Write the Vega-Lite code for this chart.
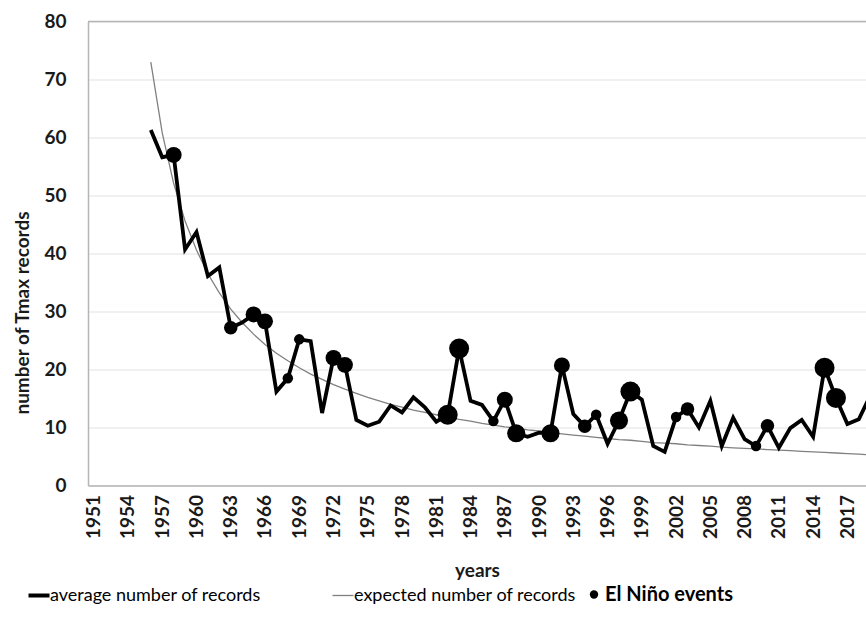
{
  "$schema": "https://vega.github.io/schema/vega-lite/v6.json",
  "width": 778,
  "height": 464,
  "autosize": {"type": "none"},
  "padding": {"left": 88, "top": 21.5, "right": 0, "bottom": 151.5},
  "background": "white",
  "config": {
    "view": {"stroke": null},
    "font": "Lato",
    "axis": {"labelFont": "Lato", "titleFont": "Lato"},
    "axisX": {"labelOverlap": false, "labelSeparation": 0},
    "legend": {"labelFont": "Lato"}
  },
  "datasets": {
    "lines": [
      {"year": 1956, "value": 73.0, "series": "expected number of records"},
      {"year": 1957, "value": 60.8, "series": "expected number of records"},
      {"year": 1958, "value": 52.1, "series": "expected number of records"},
      {"year": 1959, "value": 45.6, "series": "expected number of records"},
      {"year": 1960, "value": 40.6, "series": "expected number of records"},
      {"year": 1961, "value": 36.5, "series": "expected number of records"},
      {"year": 1962, "value": 33.2, "series": "expected number of records"},
      {"year": 1963, "value": 30.4, "series": "expected number of records"},
      {"year": 1964, "value": 28.1, "series": "expected number of records"},
      {"year": 1965, "value": 26.1, "series": "expected number of records"},
      {"year": 1966, "value": 24.3, "series": "expected number of records"},
      {"year": 1967, "value": 22.8, "series": "expected number of records"},
      {"year": 1968, "value": 21.5, "series": "expected number of records"},
      {"year": 1969, "value": 20.3, "series": "expected number of records"},
      {"year": 1970, "value": 19.2, "series": "expected number of records"},
      {"year": 1971, "value": 18.3, "series": "expected number of records"},
      {"year": 1972, "value": 17.4, "series": "expected number of records"},
      {"year": 1973, "value": 16.6, "series": "expected number of records"},
      {"year": 1974, "value": 15.9, "series": "expected number of records"},
      {"year": 1975, "value": 15.2, "series": "expected number of records"},
      {"year": 1976, "value": 14.6, "series": "expected number of records"},
      {"year": 1977, "value": 14.0, "series": "expected number of records"},
      {"year": 1978, "value": 13.5, "series": "expected number of records"},
      {"year": 1979, "value": 13.0, "series": "expected number of records"},
      {"year": 1980, "value": 12.6, "series": "expected number of records"},
      {"year": 1981, "value": 12.2, "series": "expected number of records"},
      {"year": 1982, "value": 11.8, "series": "expected number of records"},
      {"year": 1983, "value": 11.4, "series": "expected number of records"},
      {"year": 1984, "value": 11.1, "series": "expected number of records"},
      {"year": 1985, "value": 10.7, "series": "expected number of records"},
      {"year": 1986, "value": 10.4, "series": "expected number of records"},
      {"year": 1987, "value": 10.1, "series": "expected number of records"},
      {"year": 1988, "value": 9.9, "series": "expected number of records"},
      {"year": 1989, "value": 9.6, "series": "expected number of records"},
      {"year": 1990, "value": 9.4, "series": "expected number of records"},
      {"year": 1991, "value": 9.1, "series": "expected number of records"},
      {"year": 1992, "value": 8.9, "series": "expected number of records"},
      {"year": 1993, "value": 8.7, "series": "expected number of records"},
      {"year": 1994, "value": 8.5, "series": "expected number of records"},
      {"year": 1995, "value": 8.3, "series": "expected number of records"},
      {"year": 1996, "value": 8.1, "series": "expected number of records"},
      {"year": 1997, "value": 7.9, "series": "expected number of records"},
      {"year": 1998, "value": 7.8, "series": "expected number of records"},
      {"year": 1999, "value": 7.6, "series": "expected number of records"},
      {"year": 2000, "value": 7.4, "series": "expected number of records"},
      {"year": 2001, "value": 7.3, "series": "expected number of records"},
      {"year": 2002, "value": 7.2, "series": "expected number of records"},
      {"year": 2003, "value": 7.0, "series": "expected number of records"},
      {"year": 2004, "value": 6.9, "series": "expected number of records"},
      {"year": 2005, "value": 6.8, "series": "expected number of records"},
      {"year": 2006, "value": 6.6, "series": "expected number of records"},
      {"year": 2007, "value": 6.5, "series": "expected number of records"},
      {"year": 2008, "value": 6.4, "series": "expected number of records"},
      {"year": 2009, "value": 6.3, "series": "expected number of records"},
      {"year": 2010, "value": 6.2, "series": "expected number of records"},
      {"year": 2011, "value": 6.1, "series": "expected number of records"},
      {"year": 2012, "value": 6.0, "series": "expected number of records"},
      {"year": 2013, "value": 5.9, "series": "expected number of records"},
      {"year": 2014, "value": 5.8, "series": "expected number of records"},
      {"year": 2015, "value": 5.7, "series": "expected number of records"},
      {"year": 2016, "value": 5.6, "series": "expected number of records"},
      {"year": 2017, "value": 5.5, "series": "expected number of records"},
      {"year": 2018, "value": 5.4, "series": "expected number of records"},
      {"year": 2019, "value": 5.3, "series": "expected number of records"},
      {"year": 1956, "value": 61.3, "series": "average number of records"},
      {"year": 1957, "value": 56.6, "series": "average number of records"},
      {"year": 1958, "value": 57.0, "series": "average number of records"},
      {"year": 1959, "value": 40.7, "series": "average number of records"},
      {"year": 1960, "value": 43.7, "series": "average number of records"},
      {"year": 1961, "value": 36.1, "series": "average number of records"},
      {"year": 1962, "value": 37.6, "series": "average number of records"},
      {"year": 1963, "value": 27.2, "series": "average number of records"},
      {"year": 1964, "value": 28.1, "series": "average number of records"},
      {"year": 1965, "value": 29.5, "series": "average number of records"},
      {"year": 1966, "value": 28.3, "series": "average number of records"},
      {"year": 1967, "value": 16.2, "series": "average number of records"},
      {"year": 1968, "value": 18.5, "series": "average number of records"},
      {"year": 1969, "value": 25.2, "series": "average number of records"},
      {"year": 1970, "value": 24.9, "series": "average number of records"},
      {"year": 1971, "value": 12.5, "series": "average number of records"},
      {"year": 1972, "value": 22.0, "series": "average number of records"},
      {"year": 1973, "value": 20.8, "series": "average number of records"},
      {"year": 1974, "value": 11.3, "series": "average number of records"},
      {"year": 1975, "value": 10.3, "series": "average number of records"},
      {"year": 1976, "value": 11.0, "series": "average number of records"},
      {"year": 1977, "value": 13.8, "series": "average number of records"},
      {"year": 1978, "value": 12.6, "series": "average number of records"},
      {"year": 1979, "value": 15.2, "series": "average number of records"},
      {"year": 1980, "value": 13.5, "series": "average number of records"},
      {"year": 1981, "value": 11.0, "series": "average number of records"},
      {"year": 1982, "value": 12.2, "series": "average number of records"},
      {"year": 1983, "value": 23.6, "series": "average number of records"},
      {"year": 1984, "value": 14.6, "series": "average number of records"},
      {"year": 1985, "value": 13.9, "series": "average number of records"},
      {"year": 1986, "value": 11.1, "series": "average number of records"},
      {"year": 1987, "value": 14.8, "series": "average number of records"},
      {"year": 1988, "value": 9.0, "series": "average number of records"},
      {"year": 1989, "value": 8.4, "series": "average number of records"},
      {"year": 1990, "value": 9.1, "series": "average number of records"},
      {"year": 1991, "value": 9.0, "series": "average number of records"},
      {"year": 1992, "value": 20.7, "series": "average number of records"},
      {"year": 1993, "value": 12.3, "series": "average number of records"},
      {"year": 1994, "value": 10.2, "series": "average number of records"},
      {"year": 1995, "value": 12.2, "series": "average number of records"},
      {"year": 1996, "value": 7.2, "series": "average number of records"},
      {"year": 1997, "value": 11.2, "series": "average number of records"},
      {"year": 1998, "value": 16.2, "series": "average number of records"},
      {"year": 1999, "value": 14.8, "series": "average number of records"},
      {"year": 2000, "value": 6.8, "series": "average number of records"},
      {"year": 2001, "value": 5.8, "series": "average number of records"},
      {"year": 2002, "value": 11.8, "series": "average number of records"},
      {"year": 2003, "value": 13.2, "series": "average number of records"},
      {"year": 2004, "value": 10.0, "series": "average number of records"},
      {"year": 2005, "value": 14.6, "series": "average number of records"},
      {"year": 2006, "value": 6.8, "series": "average number of records"},
      {"year": 2007, "value": 11.7, "series": "average number of records"},
      {"year": 2008, "value": 8.0, "series": "average number of records"},
      {"year": 2009, "value": 6.8, "series": "average number of records"},
      {"year": 2010, "value": 10.3, "series": "average number of records"},
      {"year": 2011, "value": 6.5, "series": "average number of records"},
      {"year": 2012, "value": 9.9, "series": "average number of records"},
      {"year": 2013, "value": 11.3, "series": "average number of records"},
      {"year": 2014, "value": 8.4, "series": "average number of records"},
      {"year": 2015, "value": 20.3, "series": "average number of records"},
      {"year": 2016, "value": 15.1, "series": "average number of records"},
      {"year": 2017, "value": 10.6, "series": "average number of records"},
      {"year": 2018, "value": 11.4, "series": "average number of records"},
      {"year": 2019, "value": 15.5, "series": "average number of records"}
    ],
    "nino": [
      {"year": 1958, "value": 57.0, "strength": 3, "event": "El Niño events"},
      {"year": 1963, "value": 27.2, "strength": 2, "event": "El Niño events"},
      {"year": 1965, "value": 29.5, "strength": 3, "event": "El Niño events"},
      {"year": 1966, "value": 28.3, "strength": 3, "event": "El Niño events"},
      {"year": 1968, "value": 18.5, "strength": 1, "event": "El Niño events"},
      {"year": 1969, "value": 25.2, "strength": 1, "event": "El Niño events"},
      {"year": 1972, "value": 22.0, "strength": 3, "event": "El Niño events"},
      {"year": 1973, "value": 20.8, "strength": 3, "event": "El Niño events"},
      {"year": 1982, "value": 12.2, "strength": 5, "event": "El Niño events"},
      {"year": 1983, "value": 23.6, "strength": 5, "event": "El Niño events"},
      {"year": 1986, "value": 11.1, "strength": 1, "event": "El Niño events"},
      {"year": 1987, "value": 14.8, "strength": 3, "event": "El Niño events"},
      {"year": 1988, "value": 9.0, "strength": 4, "event": "El Niño events"},
      {"year": 1991, "value": 9.0, "strength": 4, "event": "El Niño events"},
      {"year": 1992, "value": 20.7, "strength": 3, "event": "El Niño events"},
      {"year": 1994, "value": 10.2, "strength": 2, "event": "El Niño events"},
      {"year": 1995, "value": 12.2, "strength": 1, "event": "El Niño events"},
      {"year": 1997, "value": 11.2, "strength": 4, "event": "El Niño events"},
      {"year": 1998, "value": 16.2, "strength": 5, "event": "El Niño events"},
      {"year": 2002, "value": 11.8, "strength": 1, "event": "El Niño events"},
      {"year": 2003, "value": 13.2, "strength": 2, "event": "El Niño events"},
      {"year": 2009, "value": 6.8, "strength": 1, "event": "El Niño events"},
      {"year": 2010, "value": 10.3, "strength": 2, "event": "El Niño events"},
      {"year": 2015, "value": 20.3, "strength": 5, "event": "El Niño events"},
      {"year": 2016, "value": 15.1, "strength": 5, "event": "El Niño events"}
    ]
  },
  "layer": [
    {
      "data": {"values": [{}]},
      "mark": {"type": "rule", "color": "#b5b5b5", "strokeWidth": 1.5},
      "encoding": {"y": {"datum": 80, "type": "quantitative", "scale": {"domain": [0, 80], "nice": false}}}
    },
    {
      "data": {"name": "lines"},
      "transform": [{"filter": "datum.series === 'expected number of records'"}],
      "mark": {"type": "line", "clip": true, "strokeWidth": 1.3},
      "encoding": {
        "x": {
          "field": "year", "type": "quantitative",
          "scale": {"domain": [1950.5, 2018.63], "nice": false, "zero": false},
          "axis": {
            "values": [1951, 1954, 1957, 1960, 1963, 1966, 1969, 1972, 1975, 1978, 1981, 1984, 1987, 1990, 1993, 1996, 1999, 2002, 2005, 2008, 2011, 2014, 2017],
            "tickCount": 100,
            "format": "d", "labelAngle": -90, "ticks": false, "grid": false,
            "labelOverlap": false, "labelFlush": false,
            "domainColor": "#b5b5b5", "domainWidth": 1.5,
            "labelFontSize": 19, "labelFontWeight": "bold", "labelColor": "#1a1a1a", "labelPadding": 9,
            "title": "years", "titleFontSize": 19, "titleFontWeight": "bold", "titleColor": "#1a1a1a", "titlePadding": 23
          }
        },
        "y": {
          "field": "value", "type": "quantitative",
          "scale": {"domain": [0, 80], "nice": false},
          "axis": {
            "values": [0, 10, 20, 30, 40, 50, 60, 70, 80],
            "tickCount": 100,
            "ticks": false, "grid": true, "gridColor": "#ebebeb", "gridWidth": 1.5,
            "domainColor": "#b5b5b5", "domainWidth": 1.5,
            "labelFontSize": 19, "labelFontWeight": "bold", "labelColor": "#1a1a1a", "labelPadding": 22,
            "title": "number of Tmax records", "titleFontSize": 19, "titleFontWeight": "bold", "titleColor": "#1a1a1a",
            "titleX": -66, "titleY": 291, "titleBaseline": "middle", "titleAngle": -90
          }
        },
        "color": {
          "field": "series", "type": "nominal",
          "scale": {"domain": ["average number of records", "expected number of records"], "range": ["#000000", "#808080"]},
          "legend": {
            "orient": "none", "legendX": -58, "legendY": 565, "direction": "horizontal",
            "title": null, "padding": 0, "symbolType": "stroke", "symbolSize": 441,
            "symbolStrokeWidth": 2, "labelFontSize": 18, "labelColor": "#000000", "labelOffset": 2,
            "columnPadding": 68, "labelLimit": 400,
            "encode": {"symbols": {"update": {"strokeWidth": {"signal": "datum.label === 'average number of records' ? 4 : 1.3"}}}}
          }
        }
      }
    },
    {
      "data": {"name": "lines"},
      "transform": [{"filter": "datum.series === 'average number of records'"}],
      "mark": {"type": "line", "clip": true, "strokeWidth": 3.8},
      "encoding": {
        "x": {"field": "year", "type": "quantitative"},
        "y": {"field": "value", "type": "quantitative"},
        "color": {"field": "series", "type": "nominal"}
      }
    },
    {
      "data": {"name": "nino"},
      "mark": {"type": "point", "filled": true, "clip": true, "opacity": 1, "color": "#000000"},
      "encoding": {
        "x": {"field": "year", "type": "quantitative"},
        "y": {"field": "value", "type": "quantitative"},
        "size": {"field": "strength", "type": "quantitative", "scale": {"domain": [1, 5], "range": [110, 400]}, "legend": null},
        "shape": {
          "field": "event", "type": "nominal",
          "scale": {"range": ["circle"]},
          "legend": {
            "orient": "none", "legendX": 496, "legendY": 563, "title": null, "padding": 0,
            "symbolSize": 70, "symbolFillColor": "#000000", "symbolStrokeColor": "#000000", "symbolStrokeWidth": 0,
            "labelFontSize": 20, "labelFontWeight": "bold", "labelColor": "#000000", "labelOffset": 1
          }
        }
      }
    }
  ]
}
